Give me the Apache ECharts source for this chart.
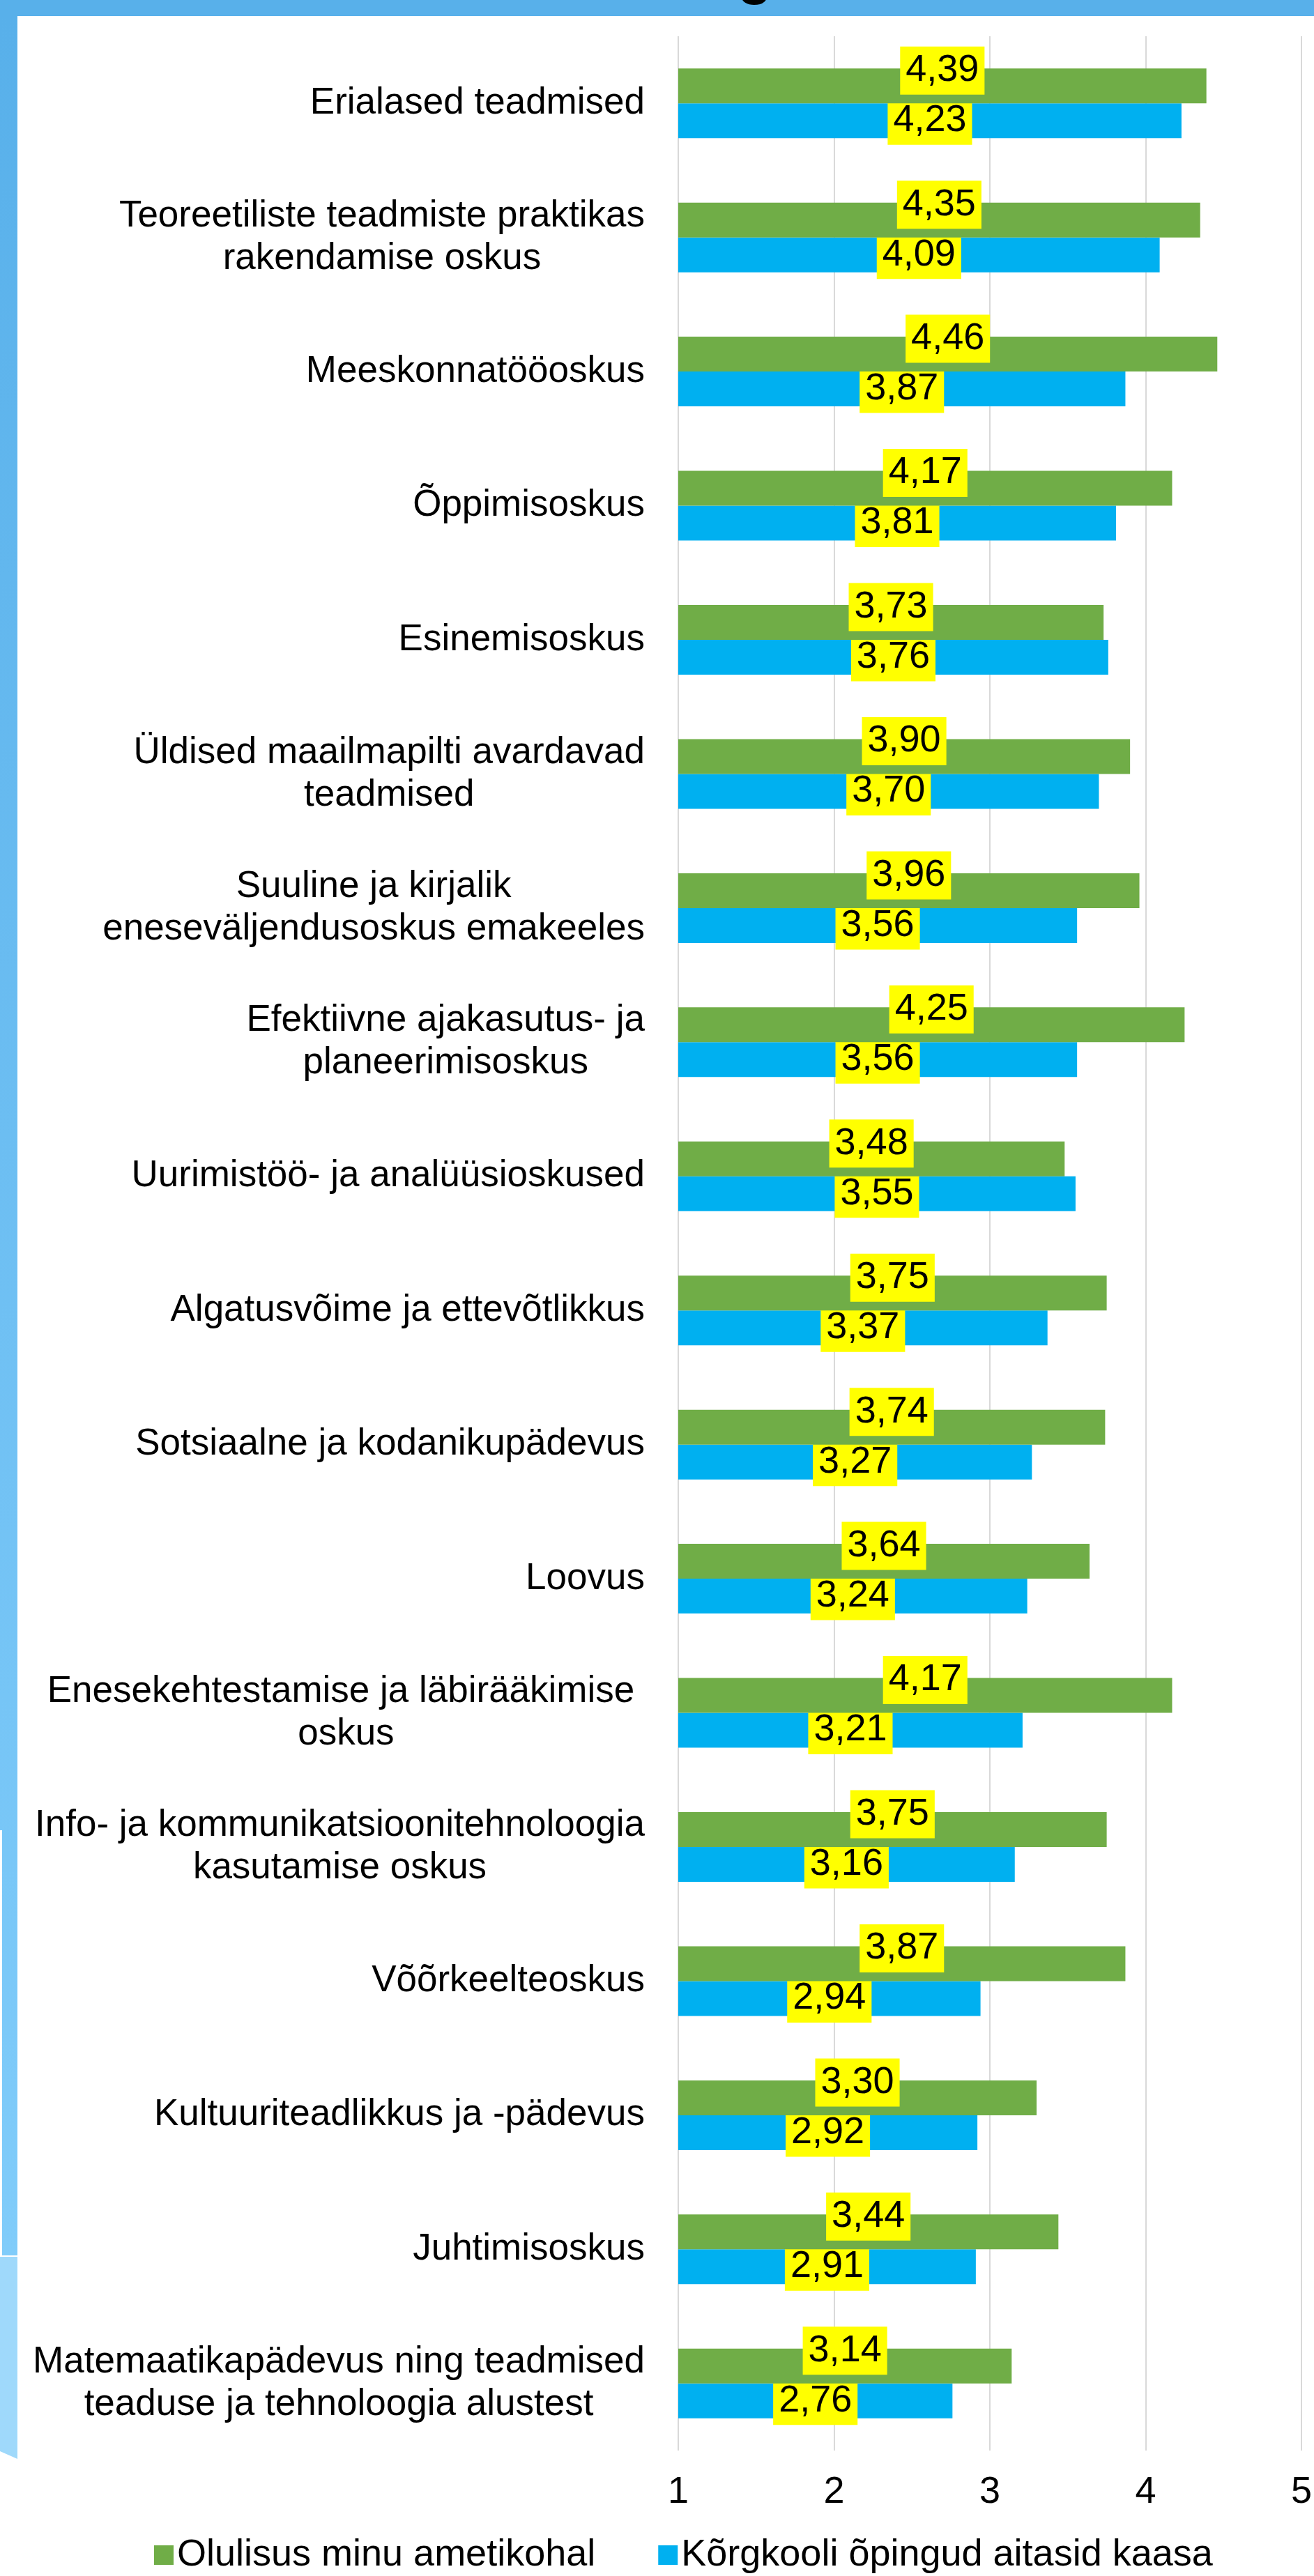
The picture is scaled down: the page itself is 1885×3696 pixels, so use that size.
<!DOCTYPE html>
<html lang="et">
<head>
<meta charset="UTF-8" />
<title>Oskused: olulisus ja kõrgkooli panus</title>
<script src="https://cdn.jsdelivr.net/npm/echarts@6/dist/echarts.min.js"></script>
<style>
  html, body { margin: 0; padding: 0; background: #fff; }
  #main { width: 1885px; height: 3696px; }
</style>
</head>
<body>
<div id="main"></div>
<script>
var categories = [
  "Erialased teadmised",
  "Teoreetiliste teadmiste praktikas\nrakendamise oskus",
  "Meeskonnatööoskus",
  "Õppimisoskus",
  "Esinemisoskus",
  "Üldised maailmapilti avardavad\nteadmised",
  "Suuline ja kirjalik\neneseväljendusoskus emakeeles",
  "Efektiivne ajakasutus- ja\nplaneerimisoskus",
  "Uurimistöö- ja analüüsioskused",
  "Algatusvõime ja ettevõtlikkus",
  "Sotsiaalne ja kodanikupädevus",
  "Loovus",
  "Enesekehtestamise ja läbirääkimise \noskus",
  "Info- ja kommunikatsioonitehnoloogia\nkasutamise oskus",
  "Võõrkeelteoskus",
  "Kultuuriteadlikkus ja -pädevus",
  "Juhtimisoskus",
  "Matemaatikapädevus ning teadmised\nteaduse ja tehnoloogia alustest"
];
var olulisus = [4.39, 4.35, 4.46, 4.17, 3.73, 3.90, 3.96, 4.25, 3.48, 3.75, 3.74, 3.64, 4.17, 3.75, 3.87, 3.30, 3.44, 3.14];
var korgkool = [4.23, 4.09, 3.87, 3.81, 3.76, 3.70, 3.56, 3.56, 3.55, 3.37, 3.27, 3.24, 3.21, 3.16, 2.94, 2.92, 2.91, 2.76];
var seriesNames = ["Olulisus minu ametikohal", "Kõrgkooli õpingud aitasid kaasa"];
var xMin = 1, xMax = 5, xStep = 1;

var FONT = "'Liberation Sans', Arial, sans-serif";

var chart = echarts.init(document.getElementById("main"));

function commaLabel(p) {
  return p.value.toFixed(2).replace(".", ",");
}

var valueLabel = {
  show: true,
  position: "inside",
  formatter: commaLabel,
  backgroundColor: "#FFFF00",
  padding: [8, 8, 7, 8],
  fontFamily: FONT,
  fontSize: 54,
  lineHeight: 54,
  color: "#000"
};

var option = {
  backgroundColor: "#ffffff",
  animation: false,
  grid: { left: 973, right: 13, top: 52, bottom: 180 },
  legend: {
    data: seriesNames,
    left: 216,
    top: 3634,
    icon: "rect",
    itemWidth: 28,
    itemHeight: 28,
    itemGap: 90,
    textStyle: { fontFamily: FONT, fontSize: 54, color: "#000" }
  },
  xAxis: {
    type: "value",
    min: xMin,
    max: xMax,
    interval: xStep,
    axisLine: { show: false },
    axisTick: { show: false },
    splitLine: { lineStyle: { color: "#D9D9D9", width: 2 } },
    axisLabel: { fontFamily: FONT, fontSize: 54, color: "#000", margin: 33 }
  },
  yAxis: {
    type: "category",
    inverse: true,
    data: categories,
    axisLine: { show: false },
    axisTick: { show: false },
    axisLabel: {
      margin: 48,
      formatter: function (v) {
        return v.split("\n").map(function (l) { return "{c|" + l + "}"; }).join("\n");
      },
      rich: {
        c: { align: "center", fontFamily: FONT, fontSize: 53, lineHeight: 61, color: "#000" }
      }
    }
  },
  series: [
    {
      name: seriesNames[0],
      type: "bar",
      data: olulisus,
      barWidth: 50,
      barGap: "0%",
      itemStyle: { color: "#70AD47" },
      label: Object.assign({}, valueLabel, { offset: [0, -22] }),
      z: 3
    },
    {
      name: seriesNames[1],
      type: "bar",
      data: korgkool,
      barWidth: 50,
      barGap: "0%",
      itemStyle: { color: "#00B0F0" },
      label: valueLabel,
      z: 2
    }
  ],
  graphic: [
    // slide decoration: top band and left strip
    { type: "rect", left: 0, top: 0, shape: { width: 1885, height: 23 }, style: { fill: "#58B0EA" }, z: 10 },
    {
      type: "rect", left: 0, top: 23, shape: { width: 25, height: 3213 },
      style: {
        fill: new echarts.graphic.LinearGradient(0, 0, 0, 1, [
          { offset: 0, color: "#58B0EA" },
          { offset: 1, color: "#80CCFA" }
        ])
      },
      z: 10
    },
    { type: "rect", left: 0, top: 2626, shape: { width: 3, height: 610 }, style: { fill: "#ffffff" }, z: 11 },
    {
      type: "polygon",
      shape: { points: [[0, 3238], [25, 3238], [25, 3528], [0, 3517]] },
      style: { fill: "#9FD9FB" },
      z: 10
    },
    // descender of the cut-off slide title
    {
      type: "text", x: 1083, y: 8,
      style: { text: "g", fontFamily: FONT, fontWeight: "bold", fontSize: 80, fill: "#000", align: "center", verticalAlign: "bottom" },
      z: 12
    }
  ]
};

chart.setOption(option);
</script>
</body>
</html>
